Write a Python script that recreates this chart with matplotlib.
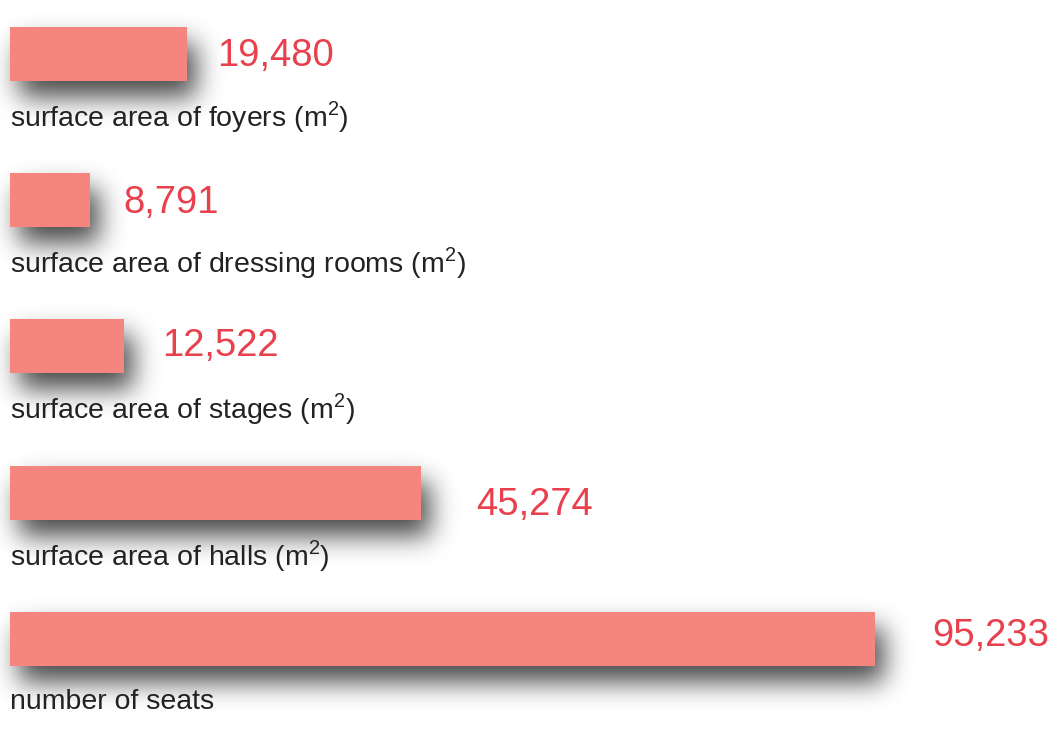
import numpy as np
import matplotlib
matplotlib.use("Agg")
import matplotlib.pyplot as plt

categories = [
    "surface area of foyers (m$^{\\mathregular{2}}$)",
    "surface area of dressing rooms (m$^{\\mathregular{2}}$)",
    "surface area of stages (m$^{\\mathregular{2}}$)",
    "surface area of halls (m$^{\\mathregular{2}}$)",
    "number of seats",
]
values = [19480, 8791, 12522, 45274, 95233]

# small per-label nudges (pixels) for the value labels, as in the original
value_dx = [30, 34, 38, 55, 57]
value_dy = [-2, -3, 0, -12, 3]

bar_color = "#f4857f"
value_color = "#e8404c"
text_color = "#222222"

plt.rcParams["font.family"] = ["Liberation Sans", "DejaVu Sans"]


def gauss_blur(a, sigma):
    r = int(3 * sigma)
    k = np.exp(-0.5 * (np.arange(-r, r + 1) / sigma) ** 2)
    k /= k.sum()
    a = np.apply_along_axis(lambda v: np.convolve(v, k, mode="same"), 0, a)
    a = np.apply_along_axis(lambda v: np.convolve(v, k, mode="same"), 1, a)
    return a


def shadow_filter(im, dpi):
    pad = 60
    ny, nx, _ = im.shape
    alpha = np.zeros((ny + 2 * pad, nx + 2 * pad))
    alpha[pad:-pad, pad:-pad] = im[..., 3]
    alpha = gauss_blur(alpha, 13)
    out = np.zeros(alpha.shape + (4,))
    out[..., 3] = np.clip(alpha * 0.72, 0, 1)
    return out, -pad + 9, -pad - 16


fig = plt.figure(figsize=(10.58, 7.33), dpi=100)
ax = fig.add_axes([0, 0, 1, 1])

px = 865 / 95233  # pixels per unit
ax.set_xlim(-10 / px, (1058 - 10) / px)
ax.set_ylim((733 - 54) / 146.25, -54 / 146.25)
ax.axis("off")

y = np.arange(len(values))
h = 54 / 146.25

shadow = ax.barh(y, values, height=h, color="black", zorder=1)
for b in shadow:
    b.set_agg_filter(shadow_filter)
    b.set_rasterized(True)
ax.barh(y, values, height=h, color=bar_color, zorder=2)

for i, (v, lab) in enumerate(zip(values, categories)):
    ax.annotate(f"{v:,}", (v, i), xytext=(value_dx[i], value_dy[i]),
                textcoords="offset pixels", ha="left", va="center",
                fontsize=27.5, color=value_color)
    ax.annotate(lab, (0, i), xytext=(0, -63), textcoords="offset pixels",
                ha="left", va="center", fontsize=20.5, color=text_color,
                zorder=3)

fig.savefig("out.png", dpi=100)
